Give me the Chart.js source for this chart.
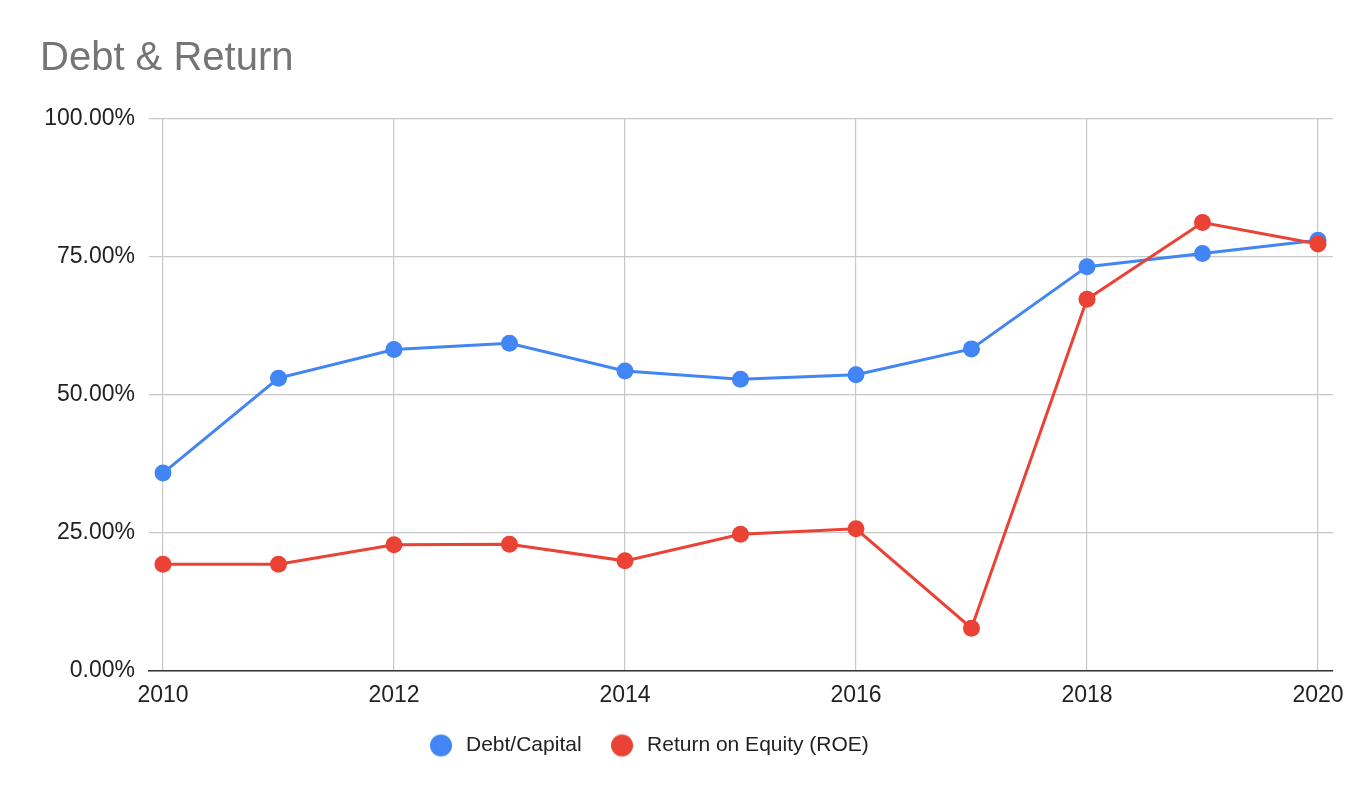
<!DOCTYPE html>
<html>
<head>
<meta charset="utf-8">
<title>Debt &amp; Return</title>
<script src="https://cdn.jsdelivr.net/npm/chart.js@4.4.0/dist/chart.umd.min.js"></script>
<style>
  html, body { margin: 0; padding: 0; background: #fff; }
  #chartbox { width: 1372px; height: 798px; }
</style>
</head>
<body>
<div id="chartbox"><canvas id="debtchart"></canvas></div>
<script>
'use strict';
//** Globals */

let years = [2010, 2011, 2012, 2013, 2014, 2015, 2016, 2017, 2018, 2019, 2020];
let debtcapital = [35.8, 53.0, 58.2, 59.3, 54.3, 52.8, 53.6, 58.3, 73.2, 75.6, 78.0];
let roe = [19.3, 19.3, 22.8, 22.9, 19.9, 24.7, 25.7, 7.7, 67.3, 81.2, 77.3];
let yearticks = [2010, 2012, 2014, 2016, 2018, 2020];
let percentticks = [0, 25, 50, 75, 100];
let seriesnames = ['Debt/Capital', 'Return on Equity (ROE)'];

let blue = '#4285f4';
let red = '#ea4335';
let fontname = '"Liberation Sans", Arial, sans-serif';

//** Helpers */

function topoints(values){
  return values.map((v, i) => ({x: years[i], y: v}));
}

// legend dot, drawn a bit left of the image centre so the text gap matches
function legenddot(color){
  let c = document.createElement('canvas');
  c.width = 30;
  c.height = 24;
  let g = c.getContext('2d');
  g.fillStyle = color;
  g.beginPath();
  g.arc(11, 12, 11, 0, Math.PI * 2);
  g.fill();
  return c;
}

let legenddots = [legenddot(blue), legenddot(red)];

// put the legend where the original has it
let legendplace = {
  id: 'legendplace',
  afterLayout(chart){
    let lg = chart.legend;
    lg.left = 400.5;
    lg.right = 1372;
    lg.top = 701;
    lg.bottom = 798;
  }
};

//** Chart */

let ctx = document.getElementById('debtchart');

let chartObj = {
  type: 'line',
  data: {
    datasets: [{
      label: seriesnames[0],
      data: topoints(debtcapital),
      borderColor: blue,
      backgroundColor: blue,
      borderWidth: 3,
      pointRadius: 8.5,
      pointBorderWidth: 0,
      pointHoverRadius: 8.5,
      order: 1
    },
    {
      label: seriesnames[1],
      data: topoints(roe),
      borderColor: red,
      backgroundColor: red,
      borderWidth: 3,
      pointRadius: 8.5,
      pointBorderWidth: 0,
      pointHoverRadius: 8.5,
      order: 0
    }]
  },
  options: {
    responsive: true,
    maintainAspectRatio: false,
    animation: false,
    events: [],
    layout: {
      padding: {left: 40, right: 39, top: 0, bottom: 0}
    },
    scales: {
      x: {
        type: 'linear',
        min: 2009.879,
        max: 2020.13,
        afterBuildTicks: function(scale){
          scale.ticks = yearticks.map(v => ({value: v}));
        },
        afterFit: function(scale){
          scale.height = 62.3;
        },
        grid: {
          color: '#c8c8c8',
          lineWidth: 1.2,
          drawTicks: false
        },
        border: {
          display: true,
          color: '#333333',
          width: 1.5
        },
        ticks: {
          padding: 11,
          color: '#222222',
          font: {family: fontname, size: 23},
          callback: v => String(v)
        }
      },
      y: {
        min: 0,
        max: 100,
        afterBuildTicks: function(scale){
          scale.ticks = percentticks.map(v => ({value: v}));
        },
        afterFit: function(scale){
          scale.width = 109;
        },
        grid: {
          color: '#c8c8c8',
          lineWidth: 1.2,
          drawTicks: false
        },
        border: {
          display: false
        },
        ticks: {
          padding: 14,
          color: '#222222',
          font: {family: fontname, size: 23},
          callback: v => v.toFixed(2) + '%'
        }
      }
    },
    plugins: {
      title: {
        display: true,
        text: 'Debt & Return',
        align: 'start',
        color: '#757575',
        font: {family: fontname, size: 40, weight: 'normal', lineHeight: 1.2},
        padding: {top: 34.5, bottom: 36.2}
      },
      legend: {
        display: true,
        position: 'bottom',
        align: 'start',
        labels: {
          usePointStyle: true,
          boxWidth: 21,
          boxHeight: 21,
          padding: 34,
          color: '#222222',
          font: {family: fontname, size: 21},
          generateLabels: function(chart){
            let items = Chart.defaults.plugins.legend.labels.generateLabels(chart);
            items.sort((a, b) => a.datasetIndex - b.datasetIndex);
            items.forEach(item => { item.pointStyle = legenddots[item.datasetIndex]; });
            return items;
          }
        }
      },
      tooltip: {enabled: false}
    }
  },
  plugins: [legendplace]
};

let debtchart = new Chart(ctx, chartObj);
</script>
</body>
</html>
